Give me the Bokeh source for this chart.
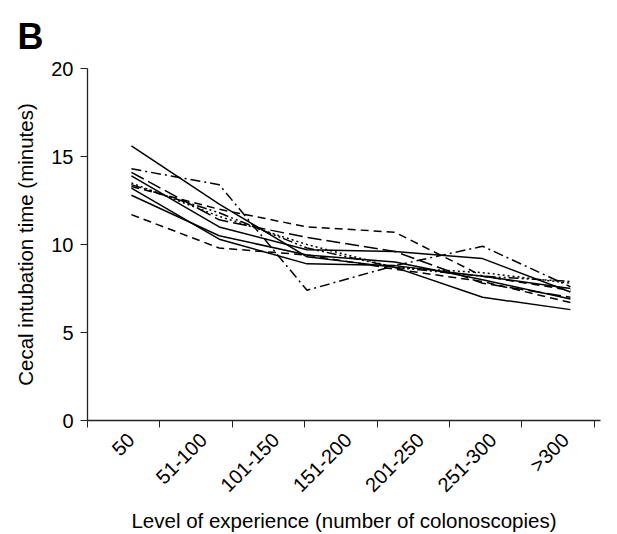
import math
from bokeh.plotting import figure
from bokeh.models import Range1d, FixedTicker
from bokeh.embed import file_html
from bokeh.resources import INLINE

# ---- data ----
categories = ["50", "51-100", "101-150", "151-200", "201-250", "251-300", ">300"]
y_ticks = [0, 5, 10, 15, 20]
point_index = [0, 1, 2, 3, 4, 5]

s1 = [15.6, 12.3, 9.3, 8.7, 7.0, 6.3]
s2 = [13.9, 11.0, 9.7, 9.6, 9.2, 7.3]
s3 = [13.2, 10.3, 8.9, 8.8, 8.2, 7.5]
s4 = [12.8, 10.5, 9.4, 9.0, 8.0, 6.9]
s5 = [11.7, 9.8, 9.4, 8.6, 7.9, 6.7]
s6 = [13.3, 12.0, 11.0, 10.7, 8.2, 7.4]
s7 = [14.3, 13.4, 7.4, 8.8, 9.9, 7.6]
s8 = [13.5, 11.6, 10.0, 8.7, 8.4, 7.8]
s9 = [14.1, 11.4, 10.4, 9.6, 7.8, 7.0]
s10 = [13.4, 11.8, 9.8, 8.7, 8.2, 7.9]

series = [s1, s2, s3, s4, s5, s6, s7, s8, s9, s10]
dashes = ["solid", "solid", "solid", "solid", "8 5", "8 5", "10 4 2 4",
          "2 3", "14 5", "10 3 2 3 2 3"]

FONT = "Liberation Sans"

label_pos = [i for i in range(len(categories))]
bounds = [i - 0.6 for i in range(len(categories) + 1)]

p = figure(width=617, height=534, output_backend="svg", toolbar_location=None,
           x_range=Range1d(-0.6, -0.6 + 513 / 72.4), y_range=Range1d(0, 20),
           min_border_left=87, min_border_right=17, min_border_top=68,
           min_border_bottom=113)
p.extra_x_ranges = {"pts": Range1d(-0.5, -0.5 + 513 / 87.8)}

p.outline_line_color = None
p.grid.grid_line_color = None
p.background_fill_color = "white"
p.border_fill_color = "white"

for s, d in zip(series, dashes):
    p.line(point_index, s, x_range_name="pts", line_color="black",
           line_width=1.5, line_dash=d)

# x axis
xa = p.xaxis[0]
xa.ticker = FixedTicker(ticks=label_pos, minor_ticks=bounds)
xa.major_label_overrides = {i: c for i, c in zip(label_pos, categories)}
xa.major_label_orientation = math.pi / 4
xa.major_tick_out = 0
xa.major_tick_in = 0
xa.minor_tick_out = 7
xa.minor_tick_in = 0
xa.minor_tick_line_color = "#222222"
xa.axis_line_color = "#222222"
xa.axis_line_width = 1.3
xa.major_label_standoff = 9
xa.major_label_text_font = FONT
xa.major_label_text_font_size = "20px"
xa.major_label_text_color = "black"
xa.axis_label = "Level of experience (number of colonoscopies)"
xa.axis_label_text_font = FONT
xa.axis_label_text_font_size = "20.5px"
xa.axis_label_text_font_style = "normal"
xa.axis_label_text_color = "black"
xa.axis_label_standoff = 2

# y axis
ya = p.yaxis[0]
ya.ticker = FixedTicker(ticks=y_ticks)
ya.major_tick_out = 7
ya.major_tick_in = 0
ya.minor_tick_out = 0
ya.minor_tick_in = 0
ya.major_tick_line_color = "#222222"
ya.axis_line_color = "#222222"
ya.axis_line_width = 1.3
ya.major_label_standoff = 7
ya.major_label_text_font = FONT
ya.major_label_text_font_size = "20px"
ya.major_label_text_color = "black"
ya.axis_label = "Cecal intubation time (minutes)"
ya.axis_label_text_font = FONT
ya.axis_label_text_font_size = "20.5px"
ya.axis_label_text_font_style = "normal"
ya.axis_label_text_color = "black"
ya.axis_label_standoff = 11

p.title.text = "B"
p.title.text_font = FONT
p.title.text_font_size = "36px"
p.title.text_font_style = "bold"
p.title.text_color = "black"
p.title.align = "left"
p.title.offset = -70
p.title.standoff = 24

open("out.html", "w").write(file_html(p, INLINE))
